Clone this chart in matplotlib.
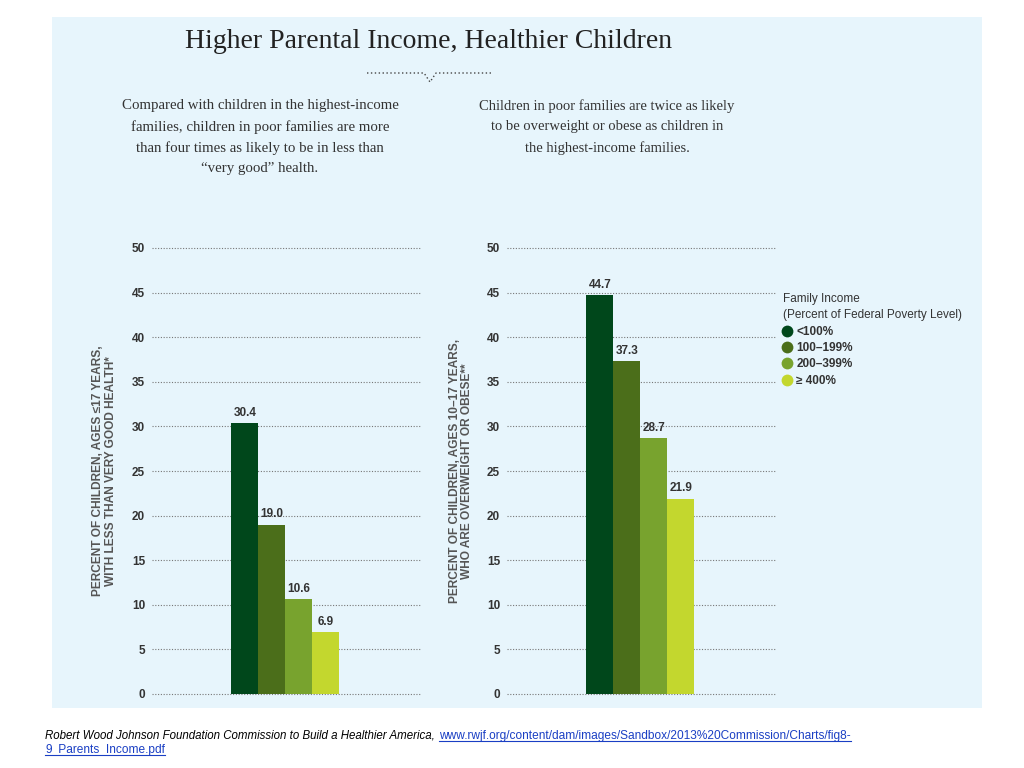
import matplotlib.pyplot as plt
from matplotlib.lines import Line2D
from matplotlib.patches import Rectangle

# data
groups = ['<100%', '100–199%', '200–399%', '≥ 400%']
health = [30.4, 19.0, 10.6, 6.9]
obese = [44.7, 37.3, 28.7, 21.9]
yticks = [0, 5, 10, 15, 20, 25, 30, 35, 40, 45, 50]

colors = ['#00471b', '#4b6e1a', '#78a32e', '#c3d72e']
panel = '#e7f5fc'
tickc = '#333333'
labc = '#555555'

plt.rcParams['font.family'] = ['Liberation Sans', 'DejaVu Sans']

fig = plt.figure(figsize=(10.24, 7.68), dpi=100)
fig.patch.set_facecolor('white')

# light blue panel behind everything
fig.add_artist(Rectangle((52 / 1024, 1 - 708 / 768), 930 / 1024, 691 / 768,
                         transform=fig.transFigure, facecolor=panel,
                         edgecolor='none', zorder=0))

fig.text(429 / 1024, 1 - 42 / 768, 'Higher Parental Income, Healthier Children',
         family='Liberation Serif', fontsize=20, color='#222222',
         ha='center', va='center')

# little dotted ornament under the title
ox = [367, 424, 430, 436, 493]
oy = [73, 73, 82, 73, 73]
fig.add_artist(Line2D([v / 1024 for v in ox], [1 - v / 768 for v in oy],
                      transform=fig.transFigure, color='#444444',
                      lw=1.0, ls=(0, (1, 1.8))))

sub1 = ('Compared with children in the highest-income\n'
        'families, children in poor families are more\n'
        'than four times as likely to be in less than\n'
        '\u201cvery good\u201d health.')
sub2 = ('Children in poor families are twice as likely\n'
        'to be overweight or obese as children in\n'
        'the highest-income families.')
fig.text(260 / 1024, 1 - 99 / 768, sub1, family='Liberation Serif',
         fontsize=10.7, color='#333333', ha='center', va='top', linespacing=1.72)
fig.text(607 / 1024, 1 - 99 / 768, sub2, family='Liberation Serif',
         fontsize=10.5, color='#333333', ha='center', va='top', linespacing=1.75)


def panel_chart(ax, values, ylabel, labx):
    ax.set_facecolor('none')
    x = list(range(len(values)))
    bars = ax.bar(x, values, width=1.0, color=colors, zorder=3)
    for b, v in zip(bars, values):
        ax.annotate(f'{v:.1f}', (b.get_x() + b.get_width() / 2, v),
                    xytext=(0, 3), textcoords='offset points',
                    ha='center', va='bottom', fontsize=8.5,
                    fontweight='bold', color=tickc, zorder=4)
    ax.set_xlim(-3.45, 6.5)
    ax.set_ylim(0, 50)
    ax.set_yticks(yticks)
    ax.set_xticks([])
    ax.tick_params(axis='y', length=0, pad=5, labelsize=8.5, labelcolor=tickc)
    for t in ax.get_yticklabels():
        t.set_fontweight('bold')
    ax.yaxis.grid(True, color='#777777', lw=0.8, ls=(0, (1, 1.5)))
    for gl in ax.get_ygridlines():
        gl.set_clip_on(False)
    for s in ax.spines.values():
        s.set_visible(False)
    ax.set_ylabel(ylabel, fontsize=8.6, fontweight='bold', color=labc,
                  linespacing=1.1)
    ax.yaxis.set_label_coords(labx, 0.5)


ax1 = fig.add_axes([152 / 1024, 1 - 694 / 768, 268 / 1024, 446 / 768])
ax2 = fig.add_axes([507 / 1024, 1 - 694 / 768, 268 / 1024, 446 / 768])
panel_chart(ax1, health,
            'PERCENT OF CHILDREN, AGES \u226417 YEARS,\nWITH LESS THAN VERY GOOD HEALTH*',
            -0.13)
panel_chart(ax2, obese,
            'PERCENT OF CHILDREN, AGES 10\u201317 YEARS,\nWHO ARE OVERWEIGHT OR OBESE**',
            -0.125)

handles = [Line2D([], [], ls='none', marker='o', markersize=8.5,
                  markerfacecolor=c, markeredgecolor='none') for c in colors]
leg = fig.legend(handles, groups, loc='upper left',
                 bbox_to_anchor=(775 / 1024, 1 - 285 / 768),
                 title='Family Income\n(Percent of Federal Poverty Level)',
                 frameon=False, fontsize=8.5, title_fontsize=8.5,
                 handlelength=0.7, handletextpad=0.4, labelspacing=0.37,
                 borderpad=0.2, alignment='left')
for t in leg.get_texts():
    t.set_fontweight('bold')
    t.set_color(tickc)
leg.get_title().set_color(tickc)
leg.get_title().set_linespacing(1.45)

# footer with source and underlined link
src = fig.text(45 / 1024, 1 - 736 / 768,
               'Robert Wood Johnson Foundation Commission to Build a Healthier America,',
               fontsize=8.3, style='italic', color='black', va='center')
fig.canvas.draw()
r = fig.canvas.get_renderer()
bb = src.get_window_extent(r)
W, H = fig.bbox.width, fig.bbox.height
link1 = fig.text(bb.x1 / W + 4 / 1024, 1 - 736 / 768,
                 'www.rwjf.org/content/dam/images/Sandbox/2013%20Commission/Charts/fig8-',
                 fontsize=8.6, color='#1a3fc4', va='center')
link2 = fig.text(45 / 1024, 1 - 750 / 768, '9_Parents_Income.pdf',
                 fontsize=8.6, color='#1a3fc4', va='center')
fig.canvas.draw()
for t in (link1, link2):
    b = t.get_window_extent(r)
    yline = (b.y0 + 1) / H
    fig.add_artist(Line2D([b.x0 / W, b.x1 / W], [yline, yline],
                          transform=fig.transFigure, color='#1a3fc4', lw=0.8))

fig.savefig('out.png', dpi=100, facecolor='white')
